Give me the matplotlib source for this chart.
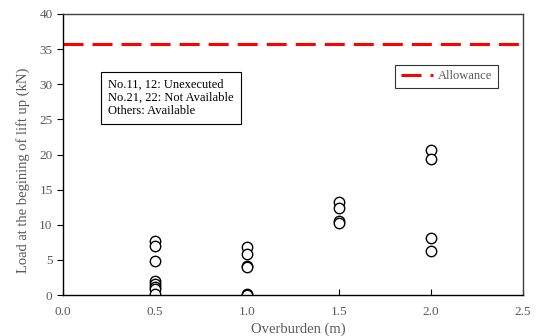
import matplotlib
matplotlib.use("Agg")
import matplotlib.pyplot as plt
from matplotlib.lines import Line2D

plt.rcParams['font.family'] = ['Liberation Serif', 'DejaVu Serif']

overburden = [0.5]*8 + [1.0]*6 + [1.5]*4 + [2.0]*4
load = [7.7, 7.0, 4.8, 2.0, 1.6, 1.2, 0.8, 0.2,
        6.9, 5.9, 4.1, 4.0, 0.15, 0.05,
        13.3, 12.4, 10.5, 10.2,
        20.7, 19.3, 8.1, 6.2]
allowance = 35.8
note_lines = ["No.11, 12: Unexecuted", "No.21, 22: Not Available", "Others: Available"]
xticks = [0.0, 0.5, 1.0, 1.5, 2.0, 2.5]
yticks = [0, 5, 10, 15, 20, 25, 30, 35, 40]

RED = '#FF0000'
LW = 2.2
DASH = (6.55, 2.95)

fig = plt.figure(figsize=(5.43, 3.36), dpi=100)
ax = fig.add_axes([63/543, 41/336, 460/543, 281/336])

ax.axhline(allowance, color=RED, lw=LW, dashes=DASH)
ax.plot(overburden, load, 'o', ms=7.5, mfc='white', mec='black', mew=1.0, ls='none')

ax.set_xlim(0, 2.5)
ax.set_ylim(0, 40)
ax.set_xticks(xticks)
ax.set_xticklabels([f"{v:.1f}" for v in xticks])
ax.set_yticks(yticks)
ax.tick_params(axis='x', direction='in', length=4, labelsize=9.5, labelcolor='#595959', pad=8)
ax.tick_params(axis='y', direction='out', length=4, labelsize=9.5, labelcolor='#595959')
for s in ax.spines.values():
    s.set_linewidth(1.0)
ax.spines['top'].set_color('#404040')
ax.spines['right'].set_color('#404040')

ax.set_xlabel("Overburden (m)", fontsize=10.5, color='#595959')
ax.set_ylabel("Load at the begining of lift up (kN)", fontsize=10.5, color='#595959')
ax.xaxis.set_label_coords(0.511, -0.121)
ax.xaxis.label.set_va('center')
ax.yaxis.set_label_coords(-0.087, 0.445)
ax.yaxis.label.set_va('center')

ax.text(0.0985, 0.770, "\n".join(note_lines), transform=ax.transAxes, fontsize=9,
        va='top', ha='left', linespacing=1.15,
        bbox=dict(boxstyle='square,pad=0.55', fc='white', ec='black', lw=0.8))

handle = Line2D([], [], color=RED, lw=LW, dashes=DASH)
leg = ax.legend([handle], ["Allowance"], loc='upper right', bbox_to_anchor=(0.946, 0.82),
                fontsize=9, frameon=True, fancybox=False, edgecolor='black',
                handlelength=2.56, borderpad=0.45, handletextpad=0.45, borderaxespad=0)
leg.get_frame().set_linewidth(0.8)
for t in leg.get_texts():
    t.set_color('#595959')

fig.savefig("out.png", dpi=100)
